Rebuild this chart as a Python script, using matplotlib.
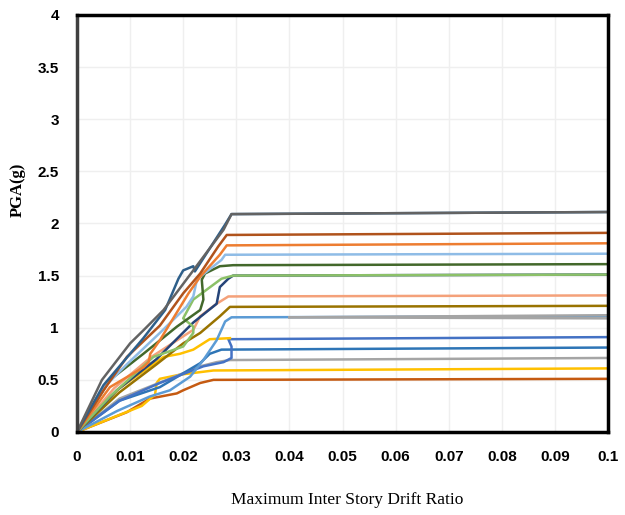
import matplotlib
matplotlib.use('Agg')
import matplotlib.pyplot as plt

X_AXIS = 'Maximum Inter Story Drift Ratio'
Y_AXIS = 'PGA(g)'

# IDA curves: (drift, PGA) pairs per record
gray_21 = [(0, 0), (0.0047, 0.5), (0.01, 0.85), (0.0126, 0.98), (0.0163, 1.17), (0.0219, 1.55), (0.0276, 1.94), (0.0291, 2.09), (0.1, 2.11)]
blue_21 = [(0, 0), (0.005, 0.45), (0.0125, 0.9), (0.0166, 1.17), (0.0191, 1.47), (0.02, 1.55), (0.0219, 1.59), (0.0222, 1.54), (0.0279, 1.99), (0.0291, 2.09), (0.1, 2.11)]
brown_19 = [(0, 0), (0.005, 0.4), (0.0094, 0.72), (0.0156, 1.02), (0.02, 1.33), (0.0232, 1.52), (0.0266, 1.78), (0.0282, 1.89), (0.1, 1.91)]
orange_18 = [(0, 0), (0.0062, 0.43), (0.0125, 0.62), (0.0135, 0.67), (0.0138, 0.75), (0.0156, 0.88), (0.021, 1.33), (0.0232, 1.49), (0.0269, 1.70), (0.0282, 1.79), (0.1, 1.81)]
ltblue_17 = [(0, 0), (0.0055, 0.45), (0.0094, 0.65), (0.0156, 0.95), (0.0206, 1.2), (0.0219, 1.30), (0.0225, 1.44), (0.0232, 1.49), (0.0272, 1.65), (0.0279, 1.70), (0.1, 1.71)]
dkgreen_16 = [(0, 0), (0.0062, 0.5), (0.0125, 0.75), (0.0188, 1.01), (0.0232, 1.17), (0.0238, 1.27), (0.0235, 1.46), (0.0241, 1.52), (0.0269, 1.59), (0.0294, 1.60), (0.1, 1.61)]
ltgreen_15 = [(0, 0), (0.0062, 0.34), (0.0144, 0.72), (0.02, 0.82), (0.0219, 0.95), (0.0219, 1.01), (0.02, 1.09), (0.0219, 1.27), (0.0272, 1.47), (0.0294, 1.50), (0.1, 1.51)]
navy_15 = [(0, 0), (0.0075, 0.4), (0.015, 0.7), (0.0219, 1.05), (0.0263, 1.23), (0.0269, 1.39), (0.0285, 1.47), (0.0294, 1.50), (0.1, 1.51)]
salmon_13 = [(0, 0), (0.007, 0.42), (0.014, 0.72), (0.0219, 0.98), (0.0232, 1.11), (0.0263, 1.23), (0.0285, 1.30), (0.1, 1.31)]
olive_12 = [(0, 0), (0.008, 0.38), (0.015, 0.65), (0.02, 0.85), (0.0232, 0.95), (0.0269, 1.11), (0.0288, 1.20), (0.1, 1.21)]
blue_11 = [(0, 0), (0.0075, 0.2), (0.0137, 0.34), (0.0175, 0.40), (0.0213, 0.53), (0.0238, 0.69), (0.0263, 0.88), (0.0279, 1.06), (0.0291, 1.10), (0.1, 1.11)]
gray_11a = [(0.04, 1.10), (0.1, 1.12)]
gray_11b = [(0.04, 1.10), (0.1, 1.09)]
blue_09 = [(0, 0), (0.008, 0.3), (0.0156, 0.47), (0.0238, 0.63), (0.0276, 0.67), (0.0291, 0.71), (0.0291, 0.82), (0.0285, 0.89), (0.1, 0.91)]
yellow_09 = [(0, 0), (0.008, 0.42), (0.0163, 0.72), (0.0194, 0.75), (0.0219, 0.79), (0.025, 0.89), (0.0288, 0.90)]
steel_08 = [(0, 0), (0.008, 0.3), (0.0156, 0.43), (0.0232, 0.66), (0.025, 0.75), (0.0272, 0.79), (0.1, 0.81)]
gray_07 = [(0, 0), (0.008, 0.32), (0.0169, 0.50), (0.0232, 0.63), (0.0263, 0.67), (0.0288, 0.69), (0.1, 0.71)]
yellow_06 = [(0, 0), (0.0122, 0.25), (0.0147, 0.36), (0.015, 0.47), (0.0156, 0.51), (0.0194, 0.55), (0.0257, 0.59), (0.1, 0.61)]
orange_05 = [(0, 0), (0.0094, 0.19), (0.0137, 0.32), (0.0188, 0.37), (0.02, 0.40), (0.0232, 0.47), (0.0257, 0.50), (0.1, 0.51)]

curves = [
  (orange_05, '#C55A11'), (yellow_06, '#FFC000'), (gray_07, '#A5A5A5'),
  (steel_08, '#2E75B6'), (blue_09, '#4472C4'), (yellow_09, '#FFC000'),
  (blue_11, '#5B9BD5'), (gray_11a, '#A5A5A5'), (gray_11b, '#A5A5A5'),
  (olive_12, '#997300'), (salmon_13, '#F4A17A'), (navy_15, '#264478'),
  (ltgreen_15, '#8CC168'), (dkgreen_16, '#43682B'), (ltblue_17, '#8FBCE6'),
  (orange_18, '#ED7D31'), (brown_19, '#B0531C'), (blue_21, '#2E5F8A'),
  (gray_21, '#636363'),
]

fig = plt.figure(figsize=(6.25, 5.15), dpi=100)
ax = fig.add_axes([0.1232, 0.1612, 0.8496, 0.8097])

for pts, col in curves:
  xs = [p[0] for p in pts]
  ys = [p[1] for p in pts]
  ax.plot(xs, ys, color=col, lw=1.8, solid_joinstyle='round')

ax.set_xlim(0, 0.1)
ax.set_ylim(0, 4)
xt = [i / 100 for i in range(11)]
ax.set_xticks(xt)
ax.set_xticklabels(['0' if v == 0 else ('0.1' if v == 0.1 else '%.2f' % v) for v in xt])
yt = [i * 0.5 for i in range(9)]
ax.set_yticks(yt)
ax.set_yticklabels(['%g' % v for v in yt])
ax.grid(True, color='#EFEFEF', lw=1)
ax.set_axisbelow(True)
ax.tick_params(axis='x', length=0, pad=13, labelsize=11)
ax.tick_params(axis='y', length=0, pad=13, labelsize=11)
for lab in ax.get_xticklabels() + ax.get_yticklabels():
  lab.set_fontweight('bold')
  lab.set_family('Liberation Sans')

for side in ['top', 'right', 'bottom']:
  ax.spines[side].set_color('black')
  ax.spines[side].set_linewidth(2.5)
ax.spines['left'].set_color('#404040')
ax.spines['left'].set_linewidth(2.5)

fig.text(347 / 625, 1 - 500 / 515, X_AXIS, family='Liberation Serif', fontsize=12.5,
         ha='center', va='center')
fig.text(18 / 625, 1 - 190 / 515, Y_AXIS, family='Liberation Serif', fontsize=12,
         fontweight='bold', rotation=90, ha='center', va='center')

plt.savefig('out.png', dpi=100)
